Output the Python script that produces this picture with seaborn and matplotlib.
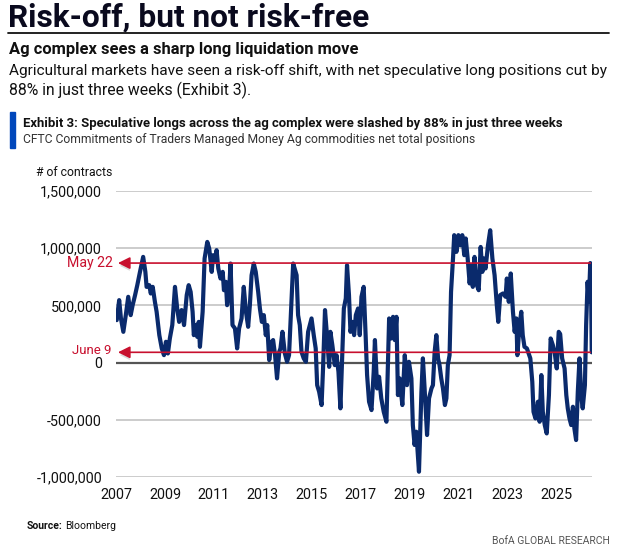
import matplotlib
matplotlib.use("Agg")
import matplotlib.pyplot as plt
import seaborn as sns
import pandas as pd
from matplotlib import font_manager
from matplotlib import patheffects as pe

# ---------------- data ----------------
years = [2007.03, 2007.13, 2007.20, 2007.30, 2007.40, 2007.50, 2007.60, 2007.68, 2007.78, 2007.87,
         2007.98, 2008.11, 2008.20, 2008.25, 2008.36, 2008.42, 2008.50, 2008.59, 2008.66, 2008.77,
         2008.87, 2008.96, 2009.04, 2009.12, 2009.20, 2009.30, 2009.41, 2009.50, 2009.58, 2009.68,
         2009.78, 2009.89, 2009.97, 2010.05, 2010.13, 2010.18, 2010.27, 2010.32, 2010.38, 2010.43,
         2010.54, 2010.62, 2010.73, 2010.81, 2010.91, 2010.97, 2011.04, 2011.11, 2011.18, 2011.27,
         2011.36, 2011.41, 2011.49, 2011.54, 2011.62, 2011.68, 2011.76, 2011.86, 2011.95, 2012.03,
         2012.13, 2012.22, 2012.31, 2012.40, 2012.47, 2012.54, 2012.63, 2012.71, 2012.81, 2012.88,
         2012.96, 2013.04, 2013.12, 2013.18, 2013.26, 2013.36, 2013.42, 2013.50, 2013.58, 2013.67,
         2013.72, 2013.80, 2013.90, 2013.99, 2014.07, 2014.17, 2014.24, 2014.38, 2014.44, 2014.51,
         2014.58, 2014.67, 2014.76, 2014.85, 2014.92, 2014.99, 2015.08, 2015.16, 2015.22, 2015.30,
         2015.40, 2015.46, 2015.54, 2015.62, 2015.71, 2015.76, 2015.84, 2015.94, 2016.01, 2016.09,
         2016.17, 2016.25, 2016.31, 2016.39, 2016.44, 2016.52, 2016.58, 2016.66, 2016.73, 2016.80,
         2016.89, 2016.96, 2017.03, 2017.12, 2017.20, 2017.26, 2017.34, 2017.44, 2017.53, 2017.58,
         2017.67, 2017.75, 2017.84, 2017.94, 2018.05, 2018.16, 2018.25, 2018.32, 2018.39, 2018.46,
         2018.52, 2018.59, 2018.70, 2018.80, 2018.89, 2018.97, 2019.07, 2019.13, 2019.20, 2019.27,
         2019.38, 2019.48, 2019.54, 2019.61, 2019.71, 2019.79, 2019.89, 2019.95, 2020.02, 2020.09,
         2020.16, 2020.22, 2020.29, 2020.36, 2020.44, 2020.50, 2020.56, 2020.63, 2020.69, 2020.77,
         2020.82, 2020.91, 2020.99, 2021.07, 2021.15, 2021.23, 2021.29, 2021.37, 2021.45, 2021.52,
         2021.58, 2021.65, 2021.72, 2021.82, 2021.90, 2021.97, 2022.03, 2022.10, 2022.20, 2022.29,
         2022.38, 2022.47, 2022.56, 2022.62, 2022.70, 2022.81, 2022.92, 2022.97, 2023.05, 2023.13,
         2023.22, 2023.29, 2023.36, 2023.40, 2023.49, 2023.56, 2023.62, 2023.69, 2023.79, 2023.93,
         2024.01, 2024.06, 2024.14, 2024.24, 2024.31, 2024.38, 2024.44, 2024.52, 2024.60, 2024.69,
         2024.76, 2024.85, 2024.93, 2025.01, 2025.09, 2025.15, 2025.23, 2025.33, 2025.40, 2025.46,
         2025.53, 2025.60, 2025.67, 2025.73, 2025.80, 2025.87, 2025.94, 2026.02, 2026.07, 2026.16,
         2026.21, 2026.27, 2026.32, 2026.38, 2026.41, 2026.44]

net_positions_k = [371, 546, 389, 269, 415, 575, 415, 502, 590, 677,
                   793, 924, 793, 662, 677, 604, 662, 531, 444, 240,
                   124, 65, 182, 80, 211, 328, 662, 473, 356, 459,
                   328, 590, 677, 618, 444, 240, 328, 225, 356, 138,
                   444, 910, 1055, 997, 793, 939, 880, 983, 823, 735,
                   793, 633, 706, 502, 618, 866, 328, 299, 124, 299,
                   386, 662, 444, 313, 502, 764, 866, 793, 618, 473,
                   356, 415, 240, 328, 22, 182, 197, 65, -138, 94,
                   124, 269, 80, 7, 65, 531, 866, 764, 415, 328,
                   94, 37, 7, 269, 328, 386, 240, 124, -197, -255,
                   -371, -51, 459, 240, -37, 269, 153, -22, 65, -80,
                   -400, 94, 473, 561, 851, 590, 269, 356, 240, 415,
                   473, 240, 575, 662, 240, -109, -342, -415, -80, 197,
                   -226, -124, -313, -430, -517, 386, 211, 400, 197, 400,
                   -284, -138, -371, 65, -197, 7, -138, -546, -720, -604,
                   -954, -255, 37, -226, -633, -313, -226, -197, 94, 240,
                   37, -22, -138, -226, -371, -313, -22, 65, 618, 910,
                   1114, 968, 1114, 1026, 1114, 939, 1085, 910, 692, 851,
                   662, 924, 692, 633, 1011, 793, 910, 823, 1026, 1157,
                   910, 764, 502, 356, 590, 604, 575, 735, 531, 779,
                   444, 269, 386, 65, 328, 444, 240, 138, 124, 37,
                   -168, -430, -488, -342, -517, -109, -430, -546, -619, -284,
                   211, 153, 80, -51, 269, 250, 37, -51, -284, -400,
                   -488, -546, -386, -575, -677, -255, 37, -313, -400, -197,
                   328, 706, 531, 870, 700, 90]

x_ticks = [2007, 2009, 2011, 2013, 2015, 2017, 2019, 2021, 2023, 2025]
y_ticks = [-1000000, -500000, 0, 500000, 1000000, 1500000]
marker_labels = ["May 22", "June 9"]
marker_levels = [870000, 90000]

title = "Risk-off, but not risk-free"
subtitle = "Ag complex sees a sharp long liquidation move"
body1 = "Agricultural markets have seen a risk-off shift, with net speculative long positions cut by"
body2 = "88% in just three weeks (Exhibit 3)."
exhibit = "Exhibit 3: Speculative longs across the ag complex were slashed by 88% in just three weeks"
exhibit_sub = "CFTC Commitments of Traders Managed Money Ag commodities net total positions"
unit_label = "# of contracts"

df = pd.DataFrame({"year": years, "net": [v * 1000 for v in net_positions_k]})

# ---------------- style ----------------
sns.set_theme(style="white")
names = {f.name for f in font_manager.fontManager.ttflist}
FONT = "Roboto"
for cand in ["Liberation Sans Narrow", "Roboto"]:
    if cand in names:
        FONT = cand
        break
plt.rcParams["font.family"] = [FONT, "DejaVu Sans"]

NAVY = "#0A2A6C"
RED = "#C8102E"
BLUE = "#0047BB"
W, H = 619, 552
fig = plt.figure(figsize=(W / 100, H / 100), dpi=100)
fig.patch.set_facecolor("white")
renderer = fig.canvas.get_renderer()


def px(x, y):
    return x / W, 1 - y / H


def fit_text(x, y, s, target_w, ha="left", va="center", **kw):
    t = fig.text(*px(x, y), s, fontsize=10, ha=ha, va=va, **kw)
    bb = t.get_window_extent(renderer)
    t.set_fontsize(10 * target_w / bb.width)
    return t


# ---------------- header ----------------
fit_text(8, 18, title, 362, weight="bold", color="#0A0A1E")
fig.add_artist(plt.Line2D([8 / W, 609 / W], [1 - 33 / H, 1 - 33 / H], color="#111111", lw=1.3))
fit_text(9, 49, subtitle, 350, weight="bold", color="#111111")
fit_text(9, 71, body1, 600, color="#111111")
fit_text(9, 90, body2, 244, color="#111111")
fig.add_artist(plt.Rectangle((10 / W, 1 - 148 / H), 5 / W, 36 / H, color=BLUE, transform=fig.transFigure))
fit_text(23, 123, exhibit, 540, weight="bold", color="#111111")
fit_text(23, 140, exhibit_sub, 455, color="#333333")

# ---------------- chart ----------------
ax = fig.add_axes([116 / W, 1 - 477 / H, 476 / W, 286 / H])
for yv in y_ticks:
    ax.axhline(yv, color="#555555" if yv == 0 else "#C4C4C4", lw=1.6 if yv == 0 else 1.2, zorder=1)

sns.lineplot(data=df, x="year", y="net", ax=ax, color=NAVY, linewidth=3.0, zorder=3)

shadow = [pe.SimplePatchShadow(offset=(0, -2), shadow_rgbFace="#999999", alpha=0.35), pe.Normal()]
for lvl in marker_levels:
    ax.annotate("", xy=(2007.08, lvl), xytext=(2026.38, lvl),
                arrowprops=dict(arrowstyle="-|>,head_length=0.6,head_width=0.3",
                                color=RED, lw=1.2, shrinkA=0, shrinkB=0,
                                path_effects=shadow),
                zorder=4, annotation_clip=False)

ax.set_xlim(2007, 2026.45)
ax.set_ylim(-1000000, 1500000)
ax.set_xticks(x_ticks)
ax.set_xticklabels([str(v) for v in x_ticks])
ax.set_yticks(y_ticks)
ax.set_yticklabels([f"{v:,}" for v in y_ticks])
ax.set_xlabel("")
ax.set_ylabel("")
for s in ax.spines.values():
    s.set_visible(False)
ax.tick_params(axis="both", length=0, labelsize=10.4, colors="#111111")
ax.tick_params(axis="y", pad=10)
ax.tick_params(axis="x", pad=8)
ax.set_facecolor("white")

fit_text(36, 173, unit_label, 77, color="#111111")
fit_text(113, 263, marker_labels[0], 46, ha="right", color=RED)
fit_text(112, 350, marker_labels[1], 40, ha="right", color=RED)

# ---------------- footer ----------------
t1 = fig.text(*px(27, 526), "Source:", fontsize=7.5, weight="bold", ha="left", va="center", color="#111111")
bb = t1.get_window_extent(renderer)
fig.text((bb.x1 + 2) / W, 1 - 526 / H, "Bloomberg", fontsize=7.5, ha="left", va="center", color="#111111")
fig.text(*px(610, 541), "BofA GLOBAL RESEARCH", fontsize=7.5, ha="right", va="center", color="#555555")

fig.savefig("out.png", dpi=100, facecolor="white")
